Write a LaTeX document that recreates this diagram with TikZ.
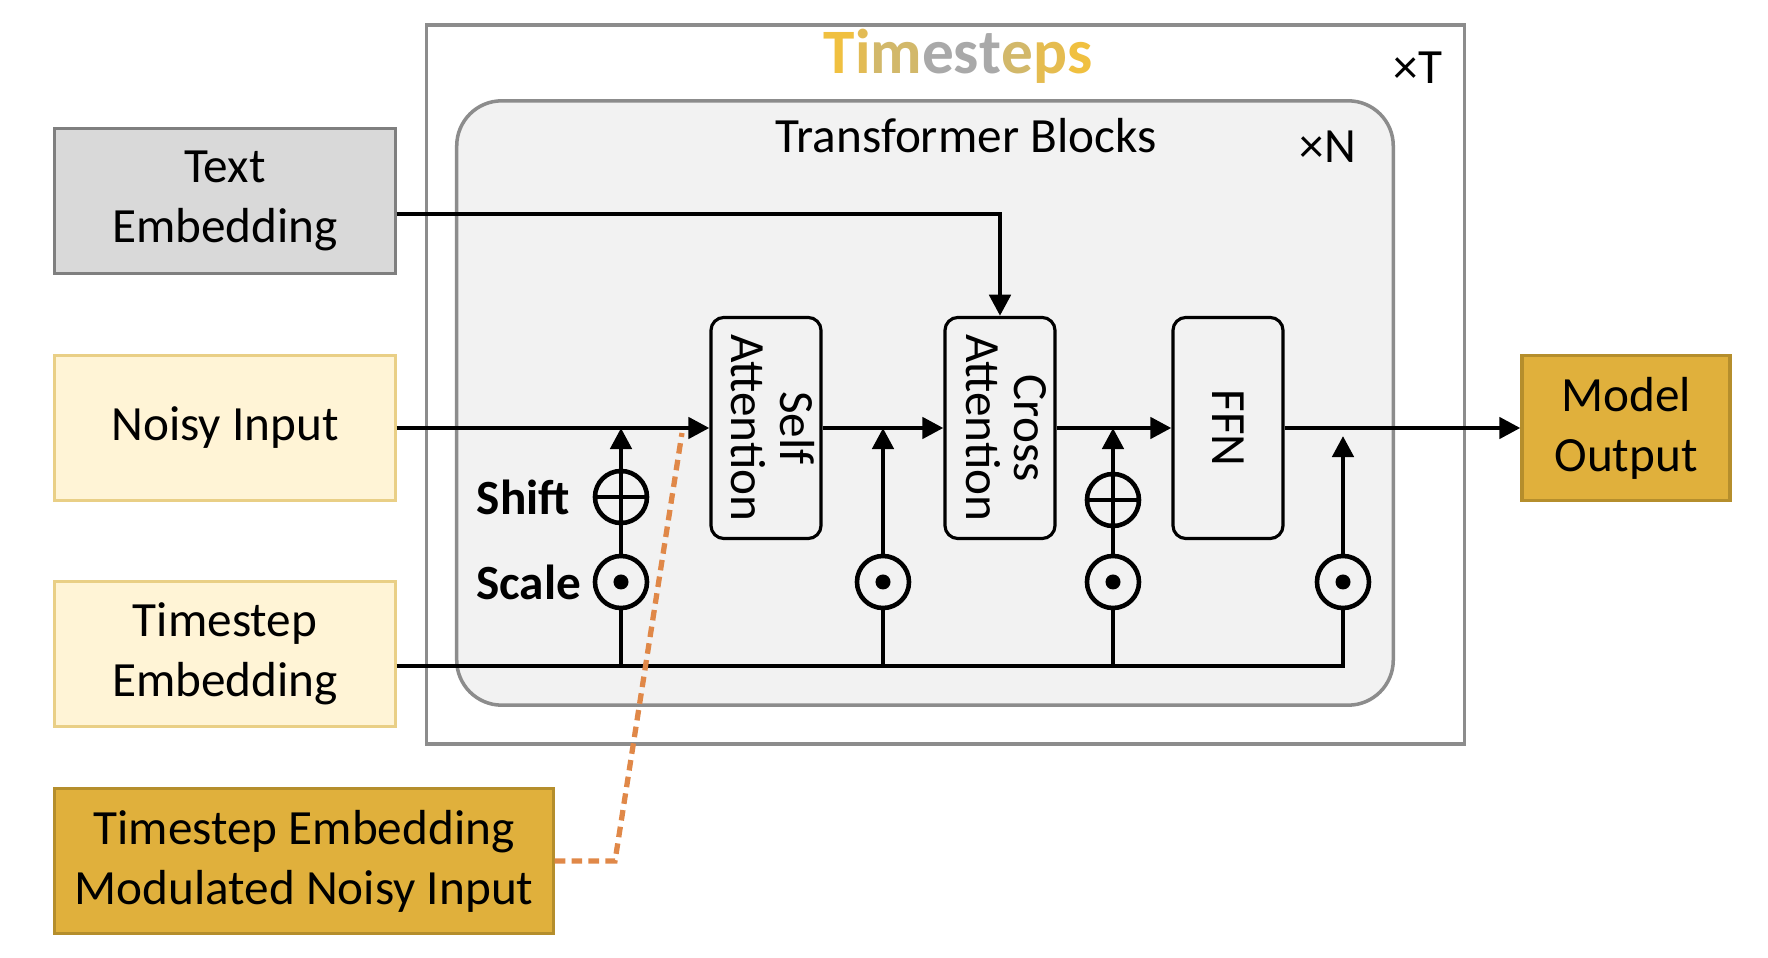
\documentclass[tikz,border=0pt]{standalone}
\usepackage{fontspec}
\setmainfont{Carlito}
\usepackage{tikz}
\usetikzlibrary{positioning, arrows.meta, calc}

\definecolor{frameGray}{HTML}{8C8C8C}
\definecolor{blockFill}{HTML}{F2F2F2}
\definecolor{textFill}{HTML}{D9D9D9}
\definecolor{textLine}{HTML}{7F7F7F}
\definecolor{inFill}{HTML}{FFF4D6}
\definecolor{inLine}{HTML}{E9CF86}
\definecolor{outFill}{HTML}{E0B03C}
\definecolor{outLine}{HTML}{B58E2C}
\definecolor{dashOrange}{HTML}{E08848}
\definecolor{tsYellow}{HTML}{F0C040}
\definecolor{tsMid}{HTML}{D2B86A}
\definecolor{tsGray}{HTML}{A9A9A9}

\newcommand{\tsword}{\textcolor{tsYellow}{T}\textcolor{tsYellow!80!tsGray}{i}\textcolor{tsMid}{m}\textcolor{tsGray}{e}\textcolor{tsGray}{s}\textcolor{tsGray}{t}\textcolor{tsMid}{e}\textcolor{tsYellow!85!tsGray}{p}\textcolor{tsYellow}{s}}
\newcommand{\vlines}[2]{\rotatebox{-90}{\renewcommand{\arraystretch}{0.8}\begin{tabular}{@{}c@{}}#1\\#2\end{tabular}}}

\begin{document}
\begin{tikzpicture}[
  x=0.01cm, y=-0.01cm,
  font=\fontsize{14}{17}\selectfont,
  conn/.style={line width=1.3pt, black},
  arr/.style={conn, -{Triangle[length=6pt, width=6pt]}},
  inp/.style={draw, line width=0.9pt, align=center, minimum width=3.4cm, minimum height=1.45cm},
  txtbox/.style={inp, fill=textFill, draw=textLine},
  noisy/.style={inp, fill=inFill, draw=inLine},
  gold/.style={inp, fill=outFill, draw=outLine},
  blk/.style={draw, line width=0.9pt, rounded corners=0.13cm, fill=blockFill,
    minimum width=1.1cm, minimum height=2.21cm, inner sep=0pt},
  opplus/.style={circle, draw, line width=1.3pt, minimum size=0.52cm, inner sep=0pt, fill=blockFill,
    path picture={\draw[black, line width=1.3pt] (path picture bounding box.west) -- (path picture bounding box.east)
      (path picture bounding box.north) -- (path picture bounding box.south);}},
  opdot/.style={circle, draw, line width=1.3pt, minimum size=0.52cm, inner sep=0pt, fill=blockFill,
    path picture={\fill[black] (path picture bounding box.center) circle (0.075cm);}},
  lbl/.style={font=\fontsize{14}{17}\selectfont\bfseries, inner sep=0pt},
]
  \useasboundingbox (0,0) rectangle (1768,958);

  % frames
  \node[draw=frameGray, line width=1pt, fill=white, minimum width=10.37cm, minimum height=7.19cm]
    (ts) at (945.5,384.5) {};
  \node[draw=frameGray, line width=1pt, fill=blockFill, rounded corners=0.45cm,
    minimum width=9.36cm, minimum height=6.04cm] (tb) at (925,403) {};
  \node[font=\fontsize{18}{20}\selectfont\bfseries] (tstitle) at (958,56) {\tsword};
  \node (xT) at (1418,68) {×T};
  \node (tbtitle) at (966,136) {Transformer Blocks};
  \node (xN) at (1328,147) {×N};

  % inputs / outputs
  \node[txtbox] (txt) at (225,201) {Text\\Embedding};
  \node[noisy]  (ni)  at (225,428) {Noisy Input};
  \node[noisy]  (te)  at (225,654) {Timestep\\Embedding};
  \node[gold, minimum width=4.98cm] (mod) at (304,861) {Timestep Embedding\\Modulated Noisy Input};
  \node[gold, minimum width=2.08cm] (mo)  at (1626,428) {Model\\Output};

  % blocks
  \node[blk] (sa)  at (766,428)  {\vlines{Self}{Attention}};
  \node[blk] (ca)  at (1000,428) {\vlines{Cross}{Attention}};
  \node[blk] (ffn) at (1228,428) {\rotatebox{-90}{FFN}};

  % modulation ops
  \node[opplus] (sh1) at (621,497) {};
  \node[opdot]  (sc1) at (621,582) {};
  \node[opdot]  (sc2) at (883,582) {};
  \node[opplus] (sh3) at (1113,500) {};
  \node[opdot]  (sc3) at (1113,582) {};
  \node[opdot]  (sc4) at (1343,582) {};
  \node[lbl, left=0.22cm of sh1] (shl) {Shift};
  \node[lbl, left=0.11cm of sc1] (scl) {Scale};

  \coordinate (tl) at (1343,666);
  \coordinate (dk) at (615,861);
  \coordinate (dt) at (682,433);

  % main path
  \draw[arr] (ni.east) -- (sa.west);
  \draw[arr] (sa.east) -- (ca.west);
  \draw[arr] (ca.east) -- (ffn.west);
  \draw[arr] (ffn.east) -- (mo.west);
  \draw[arr] ([yshift=-0.13cm]txt.east) -| (ca.north);

  % timestep path
  \draw[conn] (te.east |- tl) -- (tl) -- (sc4);
  \foreach \op in {sc1, sc2, sc3}
    \draw[conn] (\op) -- (\op |- tl);
  \draw[conn] (sc1) -- (sh1);
  \draw[conn] (sc3) -- (sh3);
  \draw[arr] (sh1) -- (sh1 |- ni.east);
  \draw[arr] (sc2) -- (sc2 |- ni.east);
  \draw[arr] (sh3) -- (sh3 |- ni.east);
  \draw[arr] (sc4) -- ([yshift=-0.08cm]sc4 |- ni.east);

  \draw[dashOrange, line width=1.5pt, dash pattern=on 3pt off 1.8pt] (mod.east) -- (dk) -- (dt);
\end{tikzpicture}
\end{document}
